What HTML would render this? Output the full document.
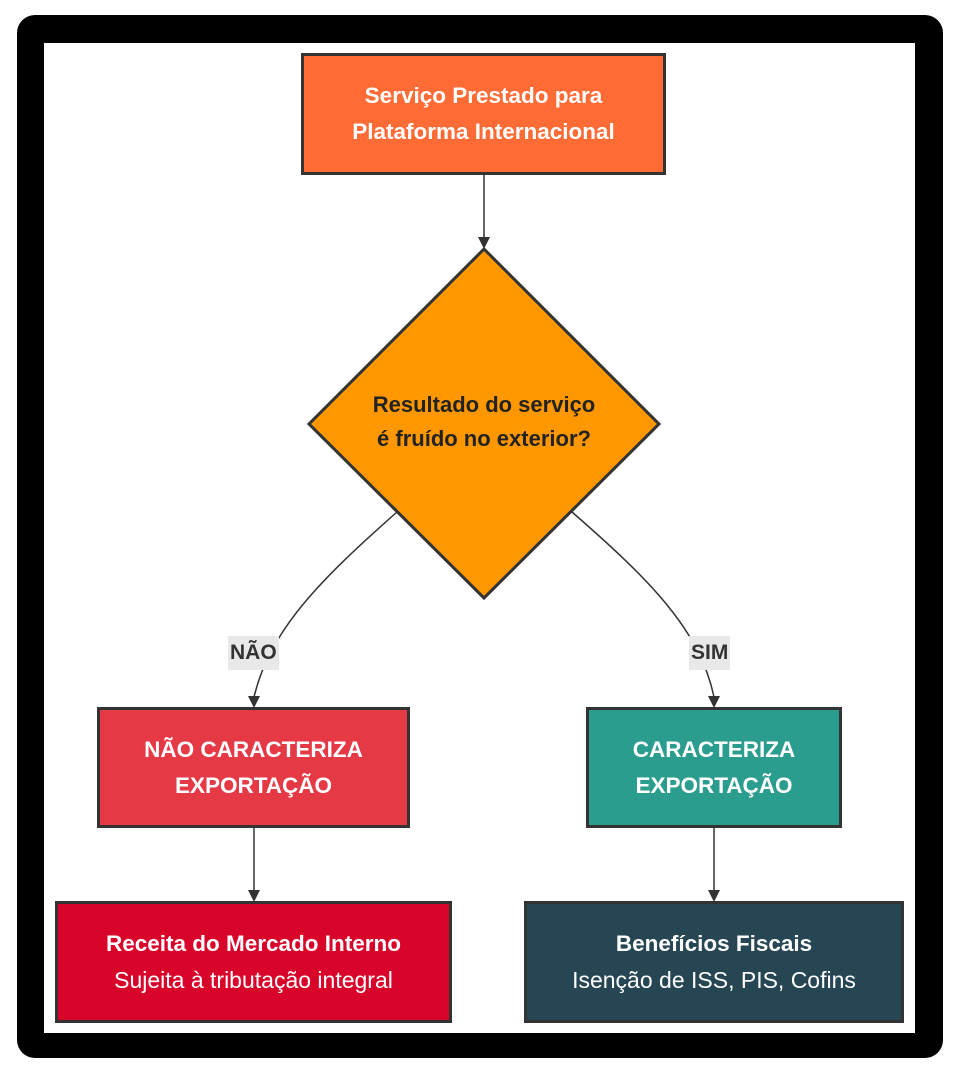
<!DOCTYPE html>
<html><head><meta charset="utf-8"><style>
html,body{margin:0;padding:0;background:#fff;}
body{width:959px;height:1076px;position:relative;overflow:hidden;font-family:"Liberation Sans",sans-serif;}
.frame{position:absolute;left:17px;top:15px;width:926px;height:1043px;background:#000;border-radius:18px;}
.inner{position:absolute;left:44px;top:43px;width:871px;height:990px;background:#fff;}
.box{position:absolute;box-sizing:border-box;border:3px solid #333;display:flex;flex-direction:column;align-items:center;justify-content:center;color:#fff;font-size:23px;line-height:36px;text-align:center;}
.b{font-weight:bold;font-size:22.5px;}
.lbl{position:absolute;background:#e8e8e8;color:#333;font-weight:bold;font-size:21px;line-height:34px;padding:0 2px;}
</style></head><body>
<div class="frame"></div><div class="inner"></div>
<svg style="position:absolute;left:0;top:0" width="959" height="1076">
<polygon points="484,249 659,424 484,598 309,424" fill="#ff9800" stroke="#333" stroke-width="3"/>
<g stroke="#333" stroke-width="1.5" fill="none">
<line x1="484" y1="175" x2="484" y2="238"/>
<path d="M397,512 C320,580 270,630 254,697"/>
<path d="M572,512 C650,580 700,630 714,697"/>
<line x1="254" y1="828" x2="254" y2="890"/>
<line x1="714" y1="828" x2="714" y2="890"/>
</g>
<g fill="#333">
<path d="M478,237 L490,237 L484,249 z"/>
<path d="M248,696 L260,696 L254,708 z"/>
<path d="M708,696 L720,696 L714,708 z"/>
<path d="M248,890 L260,890 L254,902 z"/>
<path d="M708,890 L720,890 L714,902 z"/>
</g>
</svg>
<div class="box b" style="left:301px;top:53px;width:365px;height:122px;background:#ff6b35;">Serviço Prestado para<br>Plataforma Internacional</div>
<div style="position:absolute;left:309px;top:388px;width:350px;text-align:center;font-weight:bold;font-size:22px;line-height:34px;color:#222;">Resultado do serviço<br>é fruído no exterior?</div>
<div class="lbl" style="left:228px;top:636px;">NÃO</div>
<div class="lbl" style="left:689px;top:636px;">SIM</div>
<div class="box b" style="left:97px;top:707px;width:313px;height:121px;background:#e63946;">NÃO CARACTERIZA<br>EXPORTAÇÃO</div>
<div class="box b" style="left:586px;top:707px;width:256px;height:121px;background:#2a9d8f;">CARACTERIZA<br>EXPORTAÇÃO</div>
<div class="box" style="left:55px;top:901px;width:397px;height:122px;background:#d90429;"><span class="b">Receita do Mercado Interno</span>Sujeita à tributação integral</div>
<div class="box" style="left:524px;top:901px;width:380px;height:122px;background:#264653;"><span class="b">Benefícios Fiscais</span>Isenção de ISS, PIS, Cofins</div>
</body></html>
